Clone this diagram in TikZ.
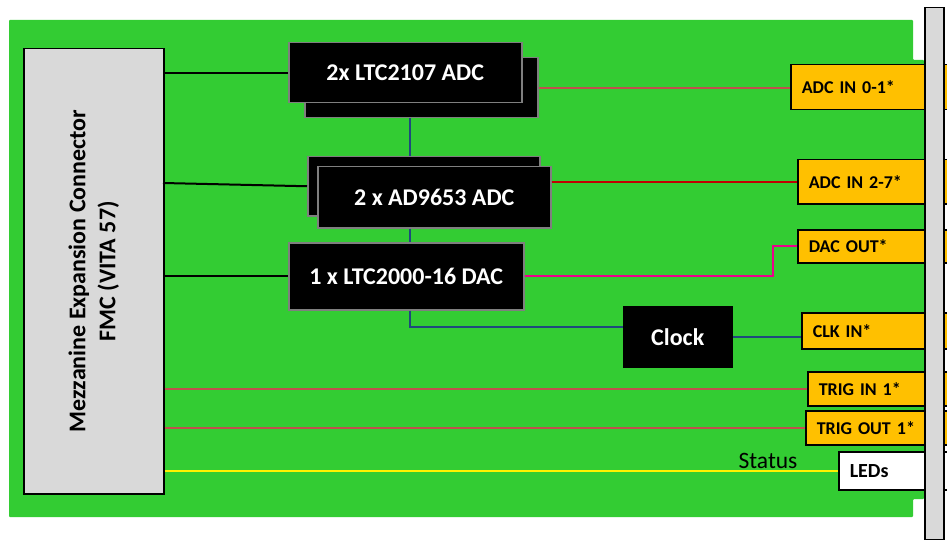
\documentclass[tikz,border=0pt]{standalone}
\usepackage{fontspec}
\setmainfont{Carlito}
\definecolor{board}{RGB}{51,204,51}
\definecolor{conn}{RGB}{255,192,0}
\definecolor{panelgray}{RGB}{217,217,217}
\definecolor{edgegray}{RGB}{127,127,127}
\definecolor{tblue}{RGB}{31,73,125}
\definecolor{tred}{RGB}{192,80,77}
\definecolor{dred}{RGB}{192,0,0}
\tikzset{
  blk/.style={fill=black, draw=edgegray, line width=1.5pt, text=white, inner sep=0pt, anchor=north west,
    font=\fontsize{24}{28}\selectfont\bfseries},
  obox/.style={fill=conn, draw=black, line width=1.5pt, anchor=north west, inner xsep=11pt, inner ysep=0pt,
    text width=150pt, align=left, font=\fontsize{18}{22}\selectfont\bfseries},
  wire/.style={line width=2pt},
}
\begin{document}
\begin{tikzpicture}[x=1pt,y=-1pt]
\useasboundingbox (0,0) rectangle (947,540);
% board
\fill[board, rounded corners=1pt] (9,20) -- (913,20) -- (913,60) -- (924,60) -- (924,499) -- (913,499) -- (913,517) -- (9,517) -- cycle;
% mezzanine connector
\node[draw=black, fill=panelgray, line width=1.5pt, anchor=north west, minimum width=140pt, minimum height=445pt, inner sep=0pt] (mezz) at (23,48) {};
\node[rotate=90, align=center, font=\fontsize{24}{30}\selectfont\bfseries] (mezztext) at (mezz.center) {Mezzanine Expansion Connector\\FMC (VITA 57)};
% blocks
\node[blk, minimum width=233pt, minimum height=60pt] (adc1b) at (304,57) {};
\node[blk, minimum width=233pt, minimum height=60pt] (adc1) at (288,42) {2x LTC2107 ADC};
\node[blk, minimum width=232pt, minimum height=59pt] (adc2b) at (307,156) {};
\node[blk, minimum width=233pt, minimum height=61pt] (adc2) at (317,166) {2 x AD9653 ADC};
\node[blk, minimum width=235pt, minimum height=67pt] (dac) at (288,242) {1 x LTC2000-16 DAC};
\node[blk, draw=black, minimum width=108pt, minimum height=60pt] (clock) at (623,306) {Clock};
% connector boxes
\node[obox, minimum height=45pt] (in01) at (790,64) {ADC IN 0-1*};
\node[obox, minimum height=44pt] (in27) at (797,159) {ADC IN 2-7*};
\node[obox, minimum height=33pt] (dacout) at (797,229) {DAC OUT*};
\node[obox, minimum height=36pt] (clkin) at (801,312) {CLK IN*};
\node[obox, minimum height=34pt] (trigin) at (807,371) {TRIG IN 1*};
\node[obox, minimum height=34pt] (trigout) at (805,410) {TRIG OUT 1*};
\node[obox, fill=white, minimum height=38pt, font=\fontsize{20}{24}\selectfont\bfseries] (leds) at (838,451) {LEDs};
% front panel
\node[draw=black, fill=panelgray, line width=1.5pt, anchor=north west, minimum width=19pt, minimum height=532pt, inner sep=0pt] (panel) at (924,7) {};
% coordinates
\coordinate (m2) at (163,183);
\coordinate (bx) at (410,0);
\coordinate (ck) at (623,327);
\coordinate (mk) at (773,0);
% wires
\draw[wire] (adc1.west -| mezz.east) -- (adc1.west);
\draw[wire] (m2) -- (adc2b.west);
\draw[wire] (dac.west -| mezz.east) -- (dac.west);
\draw[wire, tred] (adc1b.east) -- (adc1b.east -| in01.west);
\draw[wire, dred] (adc2.east |- in27.west) -- (in27.west);
\draw[wire, tblue] (bx |- adc1b.south) -- (bx |- adc2b.north);
\draw[wire, tblue] (bx |- adc2.south) -- (bx |- dac.north);
\draw[wire, tblue] (bx |- dac.south) |- (ck);
\draw[wire, tblue] (clock.east) -- (clock.east -| clkin.west);
\draw[wire, magenta] (dac.east) -- (mk |- dac.east) -- (mk |- dacout.west) -- (dacout.west);
\draw[wire, tred] (trigin.west -| mezz.east) -- (trigin.west);
\draw[wire, tred] (trigout.west -| mezz.east) -- (trigout.west);
\draw[wire, yellow] (leds.west -| mezz.east) -- (leds.west);
\node[font=\fontsize{23.5}{27}\selectfont] (status) at (768,461) {Status};
\end{tikzpicture}
\end{document}
